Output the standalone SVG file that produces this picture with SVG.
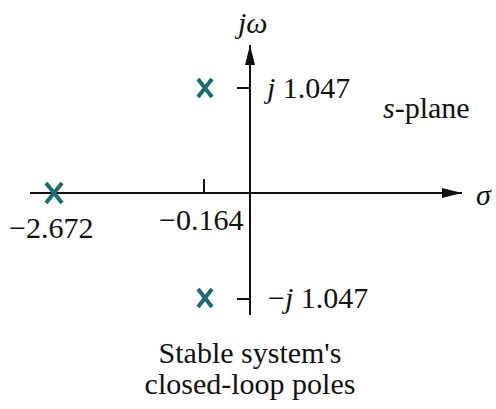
<svg xmlns="http://www.w3.org/2000/svg" width="496" height="409" viewBox="0 0 496 409">
<defs>
<style>
.ax{stroke:#111;stroke-width:2;fill:none}
.pole{stroke:#1c6b70;stroke-width:4;fill:none;stroke-linecap:butt}
text{font-family:"Liberation Serif","Times New Roman",serif;fill:#111;font-size:30px}
.it{font-style:italic}
</style>
<marker id="ah" markerWidth="20" markerHeight="10" refX="20" refY="5" orient="auto" markerUnits="userSpaceOnUse">
<path d="M0,0 L20,5 L0,10 Z" fill="#111"/>
</marker>
</defs>
<rect width="496" height="409" fill="#fff"/>
<g id="axes">
<line class="ax" x1="30" y1="193" x2="462" y2="193" marker-end="url(#ah)"/>
<line class="ax" x1="250" y1="315" x2="250" y2="45" marker-end="url(#ah)"/>
<line class="ax" x1="204" y1="179" x2="204" y2="193"/>
<line class="ax" x1="237" y1="88" x2="250" y2="88"/>
<line class="ax" x1="237" y1="299" x2="250" y2="299"/>
</g>
<g id="pole-left"><path class="pole" d="M46,183 L62,203 M62,183 L46,203"/></g>
<g id="pole-top"><path class="pole" d="M198,79 L212,97 M212,79 L198,97"/></g>
<g id="pole-bottom"><path class="pole" d="M198,289 L212,307 M212,289 L198,307"/></g>
<g id="labels">
<text x="238" y="33" class="it" font-size="33">jω</text>
<text x="267" y="98"><tspan class="it">j</tspan> 1.047</text>
<text x="268" y="308">−<tspan class="it">j</tspan> 1.047</text>
<text x="383" y="118"><tspan class="it">s</tspan>-plane</text>
<text x="476" y="205" class="it" font-size="36">σ</text>
<text x="9" y="238">−2.672</text>
<text x="159" y="230">−0.164</text>
<text x="250" y="363" text-anchor="middle">Stable system's</text>
<text x="250" y="394" text-anchor="middle">closed-loop poles</text>
</g>
</svg>
